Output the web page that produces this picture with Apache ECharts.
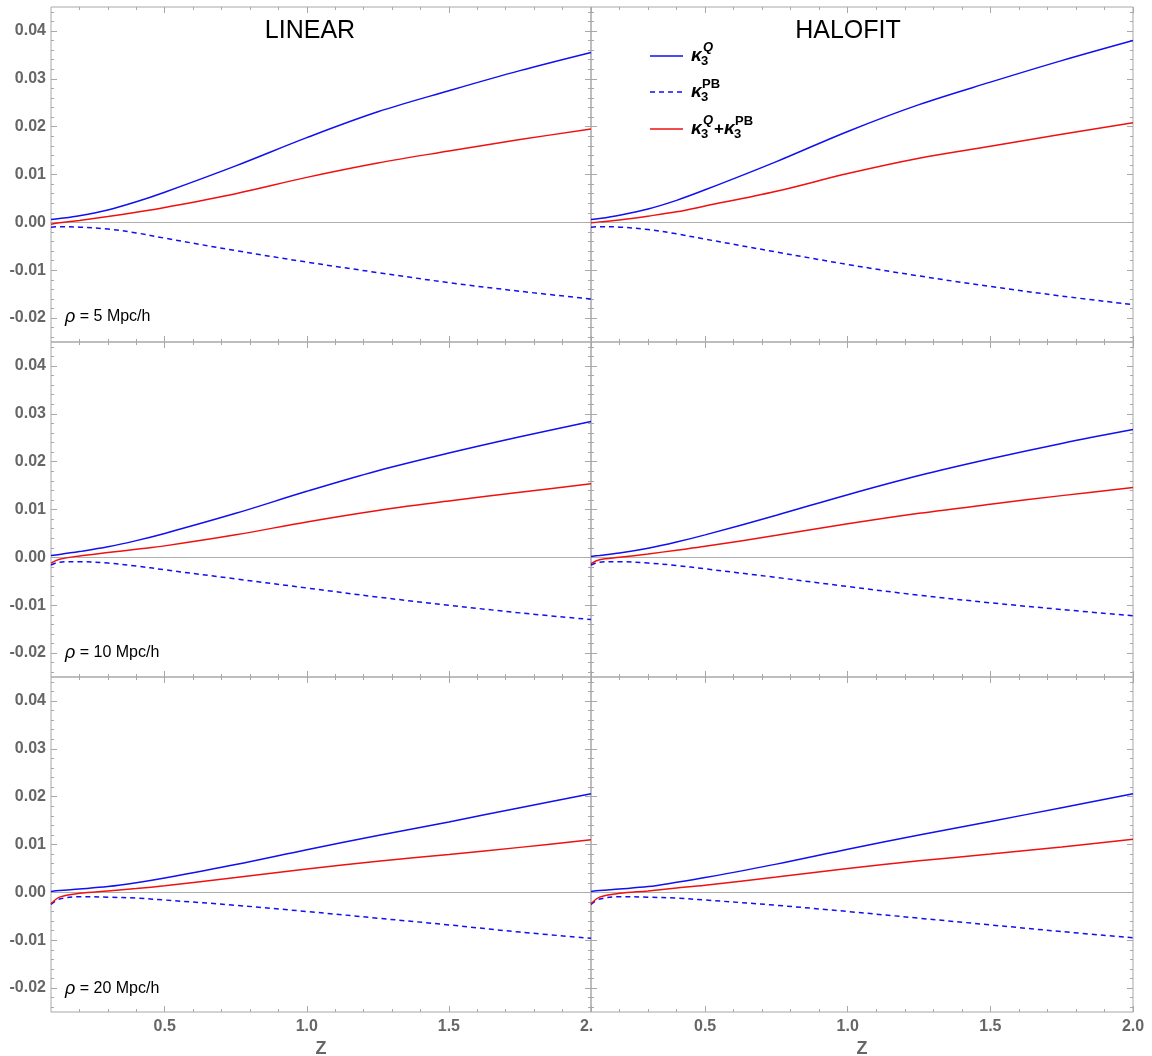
<!DOCTYPE html>
<html>
<head>
<meta charset="utf-8">
<script src="https://cdn.jsdelivr.net/npm/echarts@6/dist/echarts.min.js"></script>
<style>
html, body { margin: 0; padding: 0; background: #fff; }
#main { width: 1152px; height: 1056px; }
</style>
</head>
<body>
<div id="main"></div>
<script>
// redshift samples (shared by all panels)
var zVals = [0.1, 0.13, 0.2, 0.3, 0.4, 0.5, 0.75, 1.0, 1.25, 1.5, 1.75, 2.0];

// rho = 5 Mpc/h
var lin5_Q   = [0.0006, 0.0008, 0.0014, 0.0026, 0.0043, 0.0063, 0.0118, 0.0177, 0.0231, 0.0275, 0.0317, 0.0355];
var lin5_PB  = [-0.0010, -0.0009, -0.0010, -0.0014, -0.0022, -0.0033, -0.0059, -0.0083, -0.0105, -0.0126, -0.0144, -0.0160];
var lin5_sum = [-0.0004, -0.0001, 0.0004, 0.0012, 0.0021, 0.0031, 0.0060, 0.0094, 0.0124, 0.0149, 0.0173, 0.0195];
var hal5_Q   = [0.0006, 0.0008, 0.0015, 0.0028, 0.0046, 0.0068, 0.0127, 0.0190, 0.0246, 0.0293, 0.0338, 0.0380];
var hal5_PB  = [-0.0010, -0.0009, -0.0010, -0.0015, -0.0024, -0.0035, -0.0062, -0.0088, -0.0112, -0.0134, -0.0154, -0.0172];
var hal5_sum = [-0.0001, 0.0001, 0.0005, 0.0013, 0.0022, 0.0034, 0.0065, 0.0102, 0.0134, 0.0159, 0.0184, 0.0208];

// rho = 10 Mpc/h
var lin10_Q   = [0.0004, 0.0006, 0.0012, 0.0022, 0.0035, 0.0050, 0.0092, 0.0138, 0.0181, 0.0218, 0.0252, 0.0284];
var lin10_PB  = [-0.0016, -0.0010, -0.0009, -0.0012, -0.0018, -0.0026, -0.0045, -0.0064, -0.0083, -0.0100, -0.0116, -0.0130];
var lin10_sum = [-0.0012, -0.0004, 0.0003, 0.0010, 0.0017, 0.0024, 0.0047, 0.0074, 0.0098, 0.0118, 0.0136, 0.0154];
var hal10_Q   = [0.0002, 0.0004, 0.0009, 0.0019, 0.0032, 0.0047, 0.0088, 0.0131, 0.0171, 0.0206, 0.0238, 0.0267];
var hal10_PB  = [-0.0016, -0.0010, -0.0009, -0.0012, -0.0017, -0.0024, -0.0042, -0.0061, -0.0079, -0.0095, -0.0109, -0.0122];
var hal10_sum = [-0.0013, -0.0005, 0.0000, 0.0007, 0.0015, 0.0023, 0.0046, 0.0070, 0.0092, 0.0111, 0.0129, 0.0146];

// rho = 20 Mpc/h
var lin20_Q   = [0.0002, 0.0004, 0.0007, 0.0012, 0.0020, 0.0030, 0.0058, 0.0089, 0.0119, 0.0147, 0.0177, 0.0206];
var lin20_PB  = [-0.0025, -0.0014, -0.0009, -0.0010, -0.0012, -0.0016, -0.0027, -0.0040, -0.0054, -0.0068, -0.0083, -0.0096];
var lin20_sum = [-0.0024, -0.0010, -0.0002, 0.0003, 0.0008, 0.0014, 0.0031, 0.0049, 0.0065, 0.0079, 0.0094, 0.0110];
var hal20_Q   = [0.0002, 0.0004, 0.0007, 0.0012, 0.0021, 0.0031, 0.0059, 0.0090, 0.0120, 0.0148, 0.0177, 0.0206];
var hal20_PB  = [-0.0025, -0.0014, -0.0009, -0.0010, -0.0012, -0.0016, -0.0027, -0.0040, -0.0054, -0.0068, -0.0082, -0.0095];
var hal20_sum = [-0.0024, -0.0010, -0.0002, 0.0003, 0.0009, 0.0015, 0.0032, 0.0050, 0.0066, 0.0080, 0.0095, 0.0111];

// tick labels
var xMajor = [0.5, 1.0, 1.5, 2.0];
var xMinor = [0.2, 0.3, 0.4, 0.6, 0.7, 0.8, 0.9, 1.1, 1.2, 1.3, 1.4, 1.6, 1.7, 1.8, 1.9];
var yMajor = [-0.02, -0.01, 0.00, 0.01, 0.02, 0.03, 0.04];
var yMinor = [-0.024, -0.022, -0.018, -0.016, -0.014, -0.012, -0.008, -0.006, -0.004, -0.002,
              0.002, 0.004, 0.006, 0.008, 0.012, 0.014, 0.016, 0.018, 0.022, 0.024, 0.026, 0.028,
              0.032, 0.034, 0.036, 0.038, 0.042, 0.044];

var colTitles = ['LINEAR', 'HALOFIT'];
var rhoLabels = ['5', '10', '20'];

var panels = [
    [lin5_Q, lin5_PB, lin5_sum], [hal5_Q, hal5_PB, hal5_sum],
    [lin10_Q, lin10_PB, lin10_sum], [hal10_Q, hal10_PB, hal10_sum],
    [lin20_Q, lin20_PB, lin20_sum], [hal20_Q, hal20_PB, hal20_sum]
];

var FONT = "'Liberation Sans', Arial, sans-serif";
var TICK = '#a8a8a8';
var LABEL = '#666666';
var BLUE = '#1010f0';
var RED = '#f01010';

var chart = echarts.init(document.getElementById('main'));

var grids = [], xAxes = [], yAxes = [], series = [];

function xAxisDef(p, pos, vals, len, showLabel, c) {
    return {
        gridIndex: p, type: 'value', min: 0.1, max: 2.0, position: pos,
        axisLine: { show: false, onZero: false },
        splitLine: { show: false },
        axisTick: { show: true, inside: true, length: len, customValues: vals,
                    lineStyle: { color: TICK, width: 1 } },
        axisLabel: {
            show: showLabel, customValues: vals, margin: 7,
            color: LABEL, fontSize: 16, fontWeight: 'bold', fontFamily: FONT,
            formatter: function (v) {
                // the left panel's "2.0" is overlapped by the right panel
                if (c === 0 && Math.abs(v - 2) < 1e-9) return '2.{h|0}';
                return v.toFixed(1);
            },
            rich: { h: { color: 'rgba(0,0,0,0)', fontSize: 16, fontWeight: 'bold', fontFamily: FONT } }
        },
        name: showLabel ? 'Z' : '',
        nameLocation: 'middle', nameGap: 28,
        nameTextStyle: { color: LABEL, fontSize: 18, fontWeight: 'bold', fontFamily: FONT }
    };
}

function yAxisDef(p, pos, vals, len, showLabel) {
    return {
        gridIndex: p, type: 'value', min: -0.025, max: 0.045, position: pos,
        axisLine: { show: false, onZero: false },
        splitLine: { show: false },
        axisTick: { show: true, inside: true, length: len, customValues: vals,
                    lineStyle: { color: TICK, width: 1 } },
        axisLabel: {
            show: showLabel, customValues: vals, margin: 5,
            color: LABEL, fontSize: 16, fontWeight: 'bold', fontFamily: FONT,
            formatter: function (v) { return v.toFixed(2); }
        }
    };
}

for (var r = 0; r < 3; r++) {
    for (var c = 0; c < 2; c++) {
        var p = r * 2 + c;
        grids.push({
            left: c === 0 ? 51 : 591, width: c === 0 ? 540 : 542,
            top: 7 + r * 335, height: 335,
            outerBoundsMode: 'none', containLabel: false,
            show: true, borderColor: TICK, borderWidth: 1
        });
        // x: bottom major / minor, top major / minor, zero line
        xAxes.push(xAxisDef(p, 'bottom', xMajor, 6, r === 2, c));
        xAxes.push(xAxisDef(p, 'bottom', xMinor, 3, false, c));
        xAxes.push(xAxisDef(p, 'top', xMajor, 6, false, c));
        xAxes.push(xAxisDef(p, 'top', xMinor, 3, false, c));
        xAxes.push({
            gridIndex: p, type: 'value', min: 0.1, max: 2.0, position: 'bottom',
            axisLine: { show: true, onZero: true, lineStyle: { color: '#b0b0b0', width: 1 } },
            axisTick: { show: false }, axisLabel: { show: false }, splitLine: { show: false }
        });
        // y: left major / minor, right major / minor
        yAxes.push(yAxisDef(p, 'left', yMajor, 6, c === 0));
        yAxes.push(yAxisDef(p, 'left', yMinor, 3, false));
        yAxes.push(yAxisDef(p, 'right', yMajor, 6, false));
        yAxes.push(yAxisDef(p, 'right', yMinor, 3, false));

        var styles = [
            { color: BLUE, type: 'solid' },
            { color: BLUE, type: [5, 4] },
            { color: RED, type: 'solid' }
        ];
        for (var k = 0; k < 3; k++) {
            var arr = panels[p][k];
            series.push({
                type: 'line',
                xAxisIndex: p * 5, yAxisIndex: p * 4,
                data: zVals.map(function (z, i) { return [z, arr[i]]; }),
                showSymbol: false, symbol: 'none',
                smooth: 0.35,
                lineStyle: { color: styles[k].color, width: 1.5, type: styles[k].type },
                z: 3 + k
            });
        }
    }
}

// titles, rho labels, legend
var graphic = [];
colTitles.forEach(function (t, c) {
    graphic.push({
        type: 'text', x: c === 0 ? 310 : 848, y: 31,
        style: { text: t, fill: '#000', fontSize: 25, fontFamily: FONT,
                 align: 'center', verticalAlign: 'middle' }
    });
});
rhoLabels.forEach(function (t, r) {
    graphic.push({
        type: 'text', x: 65, y: 317 + r * 336,
        style: {
            text: '{i|ρ} = ' + t + ' Mpc/h', fill: '#000', fontSize: 16, fontFamily: FONT,
            verticalAlign: 'middle',
            rich: { i: { fontStyle: 'italic', fontSize: 18, fontFamily: FONT, fill: '#000' } }
        }
    });
});

var legendItems = [
    { y: 56, color: BLUE, dash: null, parts: [['κ', 691, 0], ['3', 701, 1], ['Q', 703, 2]] },
    { y: 92, color: BLUE, dash: [5, 4], parts: [['κ', 691, 0], ['3', 701, 1], ['PB', 702, 3]] },
    { y: 129, color: RED, dash: null, parts: [['κ', 691, 0], ['3', 701, 1], ['Q', 703, 2],
                                             ['+', 714, 4], ['κ', 724, 0], ['3', 734, 1], ['PB', 735, 3]] }
];
legendItems.forEach(function (it) {
    graphic.push({
        type: 'line', shape: { x1: 650, y1: it.y, x2: 683, y2: it.y },
        style: { stroke: it.color, lineWidth: 1.5, lineDash: it.dash }
    });
    it.parts.forEach(function (pt) {
        var kind = pt[2];
        var st = { text: pt[0], fill: '#000', fontFamily: FONT, fontWeight: 'bold',
                   verticalAlign: 'middle', align: 'left' };
        var dy = 0;
        if (kind === 0) { st.fontSize = 19; st.fontStyle = 'italic'; dy = 0; }
        if (kind === 1) { st.fontSize = 13; dy = 5; }
        if (kind === 2) { st.fontSize = 13; st.fontStyle = 'italic'; dy = -9; }
        if (kind === 3) { st.fontSize = 13; dy = -8; }
        if (kind === 4) { st.fontSize = 17; dy = 0; }
        graphic.push({ type: 'text', x: pt[1], y: it.y + dy, style: st });
    });
});

chart.setOption({
    animation: false,
    backgroundColor: '#fff',
    grid: grids,
    xAxis: xAxes,
    yAxis: yAxes,
    series: series,
    graphic: graphic
});
</script>
</body>
</html>
